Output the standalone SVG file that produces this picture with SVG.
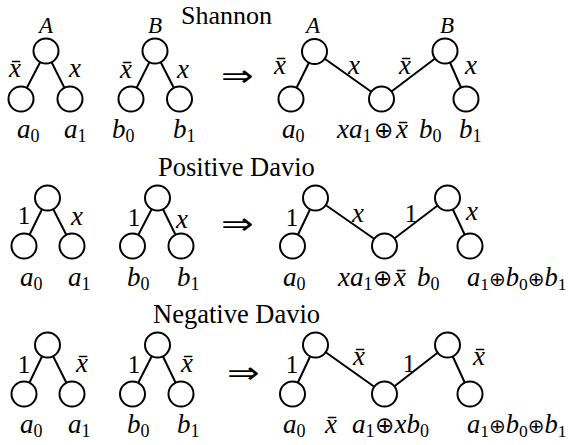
<svg xmlns="http://www.w3.org/2000/svg" width="568" height="445" viewBox="0 0 568 445">
<style>
.e{stroke:#000;stroke-width:2;fill:none}
.n{fill:#fff;stroke:#000;stroke-width:2}
.ttl{font-size:26px}
.v{font-size:27px;font-style:italic}
.L{font-size:23px;font-style:italic;text-anchor:middle}
.m{text-anchor:middle}
.one{font-size:25px;text-anchor:middle}
.s{font-size:18px;font-style:normal}
.o{font-size:23px;font-style:normal;font-family:'DejaVu Sans',sans-serif}
.arr{font-size:30px;font-family:'DejaVu Sans',sans-serif}
.sum{font-size:26.5px;font-style:italic}
.sum .s{font-size:17.5px}
.sum .o{font-size:20px}
</style>
<rect width="568" height="445" fill="#fff"/>
<g id="connectors">
<line class="e" x1="46" y1="51" x2="21" y2="99"/><line class="e" x1="46" y1="51" x2="70" y2="99"/>
<line class="e" x1="155" y1="51" x2="131" y2="99"/><line class="e" x1="155" y1="51" x2="179.5" y2="99"/>
<line class="e" x1="314.5" y1="51.5" x2="291" y2="99"/><line class="e" x1="314.5" y1="51.5" x2="381.5" y2="99"/>
<line class="e" x1="381.5" y1="99" x2="445" y2="51"/><line class="e" x1="445" y1="51" x2="466" y2="99"/>
<line class="e" x1="47.5" y1="198" x2="24" y2="246"/><line class="e" x1="47.5" y1="198" x2="72" y2="246"/>
<line class="e" x1="157.5" y1="198" x2="132.5" y2="246"/><line class="e" x1="157.5" y1="198" x2="181" y2="246"/>
<line class="e" x1="315.5" y1="198" x2="292.5" y2="246"/><line class="e" x1="315.5" y1="198" x2="384.5" y2="246"/>
<line class="e" x1="384.5" y1="246" x2="447.5" y2="198"/><line class="e" x1="447.5" y1="198" x2="470" y2="246"/>
<line class="e" x1="47.5" y1="345" x2="24" y2="394"/><line class="e" x1="47.5" y1="345" x2="72" y2="394"/>
<line class="e" x1="157.5" y1="345" x2="132.5" y2="394"/><line class="e" x1="157.5" y1="345" x2="181" y2="394"/>
<line class="e" x1="315.5" y1="345" x2="292.5" y2="394"/><line class="e" x1="315.5" y1="345" x2="384.5" y2="394"/>
<line class="e" x1="384.5" y1="394" x2="447.5" y2="345"/><line class="e" x1="447.5" y1="345" x2="470" y2="394"/>
</g>
<g font-family="'Liberation Serif', 'DejaVu Serif', serif" fill="#000">
<g id="s-A"><circle class="n" cx="46" cy="51" r="12.5"/><text class="L" x="46" y="33">A</text></g>
<g id="s-a0"><circle class="n" cx="21" cy="99" r="12.5"/></g>
<g id="s-a1"><circle class="n" cx="70" cy="99" r="12.5"/></g>
<g id="s-B"><circle class="n" cx="155" cy="51" r="12.5"/><text class="L" x="155" y="33">B</text></g>
<g id="s-b0"><circle class="n" cx="131" cy="99" r="12.5"/></g>
<g id="s-b1"><circle class="n" cx="179.5" cy="99" r="12.5"/></g>
<g id="s-mA"><circle class="n" cx="314.5" cy="51.5" r="12.5"/><text class="L" x="313" y="33">A</text></g>
<g id="s-m0"><circle class="n" cx="291" cy="99" r="12.5"/></g>
<g id="s-mm"><circle class="n" cx="381.5" cy="99" r="12.5"/></g>
<g id="s-mB"><circle class="n" cx="445" cy="51" r="12.5"/><text class="L" x="447" y="33">B</text></g>
<g id="s-m1"><circle class="n" cx="466" cy="99" r="12.5"/></g>
<g id="p-A"><circle class="n" cx="47.5" cy="198" r="12.5"/></g>
<g id="p-a0"><circle class="n" cx="24" cy="246" r="12.5"/></g>
<g id="p-a1"><circle class="n" cx="72" cy="246" r="12.5"/></g>
<g id="p-B"><circle class="n" cx="157.5" cy="198" r="12.5"/></g>
<g id="p-b0"><circle class="n" cx="132.5" cy="246" r="12.5"/></g>
<g id="p-b1"><circle class="n" cx="181" cy="246" r="12.5"/></g>
<g id="p-mA"><circle class="n" cx="315.5" cy="198" r="12.5"/></g>
<g id="p-m0"><circle class="n" cx="292.5" cy="246" r="12.5"/></g>
<g id="p-mm"><circle class="n" cx="384.5" cy="246" r="12.5"/></g>
<g id="p-mB"><circle class="n" cx="447.5" cy="198" r="12.5"/></g>
<g id="p-m1"><circle class="n" cx="470" cy="246" r="12.5"/></g>
<g id="n-A"><circle class="n" cx="47.5" cy="345" r="12.5"/></g>
<g id="n-a0"><circle class="n" cx="24" cy="394" r="12.5"/></g>
<g id="n-a1"><circle class="n" cx="72" cy="394" r="12.5"/></g>
<g id="n-B"><circle class="n" cx="157.5" cy="345" r="12.5"/></g>
<g id="n-b0"><circle class="n" cx="132.5" cy="394" r="12.5"/></g>
<g id="n-b1"><circle class="n" cx="181" cy="394" r="12.5"/></g>
<g id="n-mA"><circle class="n" cx="315.5" cy="345" r="12.5"/></g>
<g id="n-m0"><circle class="n" cx="292.5" cy="394" r="12.5"/></g>
<g id="n-mm"><circle class="n" cx="384.5" cy="394" r="12.5"/></g>
<g id="n-mB"><circle class="n" cx="447.5" cy="345" r="12.5"/></g>
<g id="n-m1"><circle class="n" cx="470" cy="394" r="12.5"/></g>
<g id="labels">
<text class="ttl" x="181" y="23.5">Shannon</text>
<text class="ttl" x="158" y="176" style="font-size:26.5px">Positive Davio</text>
<text class="ttl" x="153" y="323" style="font-size:26.5px">Negative Davio</text>
<text class="arr" transform="translate(221,86) scale(1.3,1)">⇒</text>
<text class="arr" transform="translate(221,234) scale(1.3,1)">⇒</text>
<text class="arr" transform="translate(227,383) scale(1.3,1)">⇒</text>
<text class="v m" x="15" y="77">x̄</text><text class="v m" x="75" y="77">x</text>
<text class="v m" x="126" y="78">x̄</text><text class="v m" x="183" y="78">x</text>
<text class="v m" x="280" y="74">x̄</text><text class="v m" x="354" y="74">x</text>
<text class="v m" x="405" y="74">x̄</text><text class="v m" x="471" y="74">x</text>
<text class="v" x="17" y="138">a<tspan class="s" dy="4">0</tspan></text>
<text class="v" x="64" y="138">a<tspan class="s" dy="4">1</tspan></text>
<text class="v" x="112" y="138">b<tspan class="s" dy="4">0</tspan></text>
<text class="v" x="173" y="138">b<tspan class="s" dy="4">1</tspan></text>
<text class="v" x="282" y="138">a<tspan class="s" dy="4">0</tspan></text>
<text class="v" y="138"><tspan x="337">x</tspan><tspan x="349">a</tspan><tspan class="s" x="362.5" dy="4">1</tspan><tspan class="o" x="374" dy="-4">⊕</tspan><tspan x="396">x̄</tspan><tspan x="419">b</tspan><tspan class="s" x="432.5" dy="4">0</tspan></text>
<text class="v" x="459" y="138">b<tspan class="s" dy="4">1</tspan></text>
<text class="one" x="24" y="224">1</text><text class="v m" x="77" y="225">x</text>
<text class="one" x="134" y="226">1</text><text class="v m" x="182" y="228">x</text>
<text class="one" x="292" y="226">1</text><text class="v m" x="358" y="222">x</text>
<text class="one" x="411" y="222">1</text><text class="v m" x="472" y="220">x</text>
<text class="v" x="20" y="286">a<tspan class="s" dy="4">0</tspan></text>
<text class="v" x="68" y="286">a<tspan class="s" dy="4">1</tspan></text>
<text class="v" x="127" y="286">b<tspan class="s" dy="4">0</tspan></text>
<text class="v" x="177" y="286">b<tspan class="s" dy="4">1</tspan></text>
<text class="v" x="283" y="286">a<tspan class="s" dy="4">0</tspan></text>
<text class="v" y="286"><tspan x="338">x</tspan><tspan x="350">a</tspan><tspan class="s" x="363.5" dy="4">1</tspan><tspan class="o" x="373" dy="-4">⊕</tspan><tspan x="394">x̄</tspan><tspan x="417">b</tspan><tspan class="s" x="430.5" dy="4">0</tspan></text>
<text class="sum" x="467" y="286">a<tspan class="s" dy="4">1</tspan><tspan class="o" dy="-4">⊕</tspan>b<tspan class="s" dy="4">0</tspan><tspan class="o" dy="-4">⊕</tspan>b<tspan class="s" dy="4">1</tspan></text>
<text class="one" x="24" y="373">1</text><text class="v m" x="82" y="372">x̄</text>
<text class="one" x="134" y="373">1</text><text class="v m" x="187" y="372">x̄</text>
<text class="one" x="292" y="373">1</text><text class="v m" x="359" y="365">x̄</text>
<text class="one" x="409" y="372">1</text><text class="v m" x="479" y="365">x̄</text>
<text class="v" x="20" y="433">a<tspan class="s" dy="4">0</tspan></text>
<text class="v" x="68" y="433">a<tspan class="s" dy="4">1</tspan></text>
<text class="v" x="127" y="433">b<tspan class="s" dy="4">0</tspan></text>
<text class="v" x="177" y="433">b<tspan class="s" dy="4">1</tspan></text>
<text class="v" x="283" y="433">a<tspan class="s" dy="4">0</tspan></text>
<text class="v" y="433"><tspan x="325">x̄</tspan><tspan x="352">a</tspan><tspan class="s" x="365.5" dy="4">1</tspan><tspan class="o" x="375" dy="-4">⊕</tspan><tspan x="394.5">x</tspan><tspan x="406.5">b</tspan><tspan class="s" x="420" dy="4">0</tspan></text>
<text class="sum" x="467" y="433">a<tspan class="s" dy="4">1</tspan><tspan class="o" dy="-4">⊕</tspan>b<tspan class="s" dy="4">0</tspan><tspan class="o" dy="-4">⊕</tspan>b<tspan class="s" dy="4">1</tspan></text>
</g>
</g>
</svg>
